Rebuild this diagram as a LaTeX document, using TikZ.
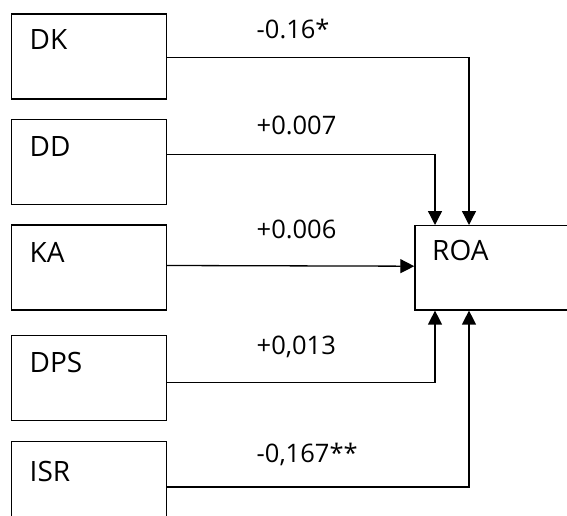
\documentclass[tikz,border=0pt]{standalone}
\usepackage{fontspec}
\setmainfont{Open Sans}
\usetikzlibrary{arrows.meta,calc}
\begin{document}
\begin{tikzpicture}[x=1pt,y=-1pt,
  box/.style={draw, line width=1.3pt, minimum width=155pt, minimum height=85pt,
              inner sep=0pt, anchor=north west},
  varname/.style={font=\fontsize{28}{32}\selectfont, anchor=base west, inner sep=0pt},
  coef/.style={font=\fontsize{25.5}{30}\selectfont, anchor=base west, inner sep=0pt},
  link/.style={line width=1.3pt, -{Triangle[length=14pt,width=14pt]}}]

\useasboundingbox (0,0) rectangle (567,516);
\clip (0,0) rectangle (567,516);

% predictor boxes
\node[box] (dk)  at (10.7,13.3)  {};
\node[box] (dd)  at (10.7,119)   {};
\node[box] (ka)  at (10.7,224.3) {};
\node[box] (dps) at (10.7,335)   {};
\node[box] (isr) at (10.7,440.5) {};
% outcome box (runs past the right edge)
\node[box, minimum width=200pt, minimum height=84.3pt] (roa) at (414.3,225) {};

% box captions
\node[varname] (tdk)  at (29.5,49.3)   {DK};
\node[varname] (tdd)  at (29.5,156)    {DD};
\node[varname] (tka)  at (29.5,262)    {KA};
\node[varname] (tdps) at (29.5,372)    {DPS};
\node[varname] (tisr) at (29.5,481)    {ISR};
\node[varname] (troa) at (432,260)     {ROA};

% paths into ROA
\draw[link] ($(dk.north east)+(0,44.4)$)  -| ($(roa.north west)+(54.7,0)$);
\draw[link] ($(dd.north east)+(0,35.3)$)  -| ($(roa.north west)+(20.7,0)$);
\draw[link] ($(ka.north east)+(0,41.2)$)  -- ($(roa.north west)+(0,41.2)$);
\draw[link] ($(dps.north east)+(0,47.5)$) -| ($(roa.south west)+(20.7,0)$);
\draw[link] ($(isr.north east)+(0,46.5)$) -| ($(roa.south west)+(54.7,0)$);

% coefficients
\node[coef] (cdk)  at (256.5,38.3)  {-0.16*};
\node[coef] (cdd)  at (256.5,134.3) {+0.007};
\node[coef] (cka)  at (256.5,238.3) {+0.006};
\node[coef] (cdps) at (256.5,354.3) {+0,013};
\node[coef] (cisr) at (256.5,462.5) {-0,167**};
\end{tikzpicture}
\end{document}
